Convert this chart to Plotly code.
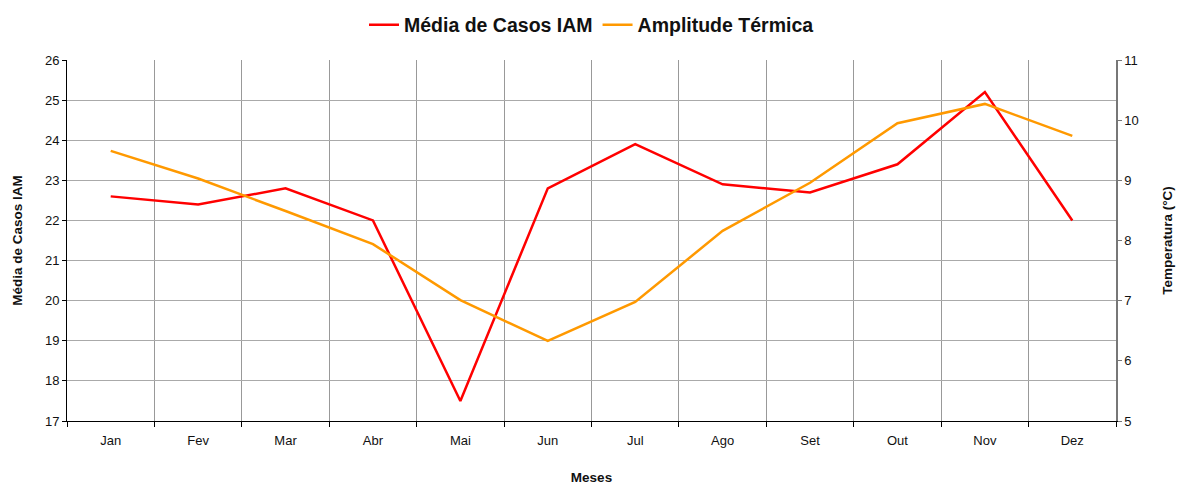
import plotly.graph_objects as go

meses = ["Jan", "Fev", "Mar", "Abr", "Mai", "Jun", "Jul", "Ago", "Set", "Out", "Nov", "Dez"]
casos_iam = [22.6, 22.4, 22.8, 22.0, 17.5, 22.8, 23.9, 22.9, 22.7, 23.4, 25.2, 22.0]
amplitude = [9.49, 9.03, 8.49, 7.94, 7.01, 6.33, 6.98, 8.16, 8.96, 9.95, 10.27, 9.74]

font = "Liberation Sans, Arial, sans-serif"

fig = go.Figure()
fig.add_trace(go.Scatter(x=meses, y=casos_iam, name="Média de Casos IAM",
                         mode="lines", line=dict(color="#ff0000", width=2.5)))
fig.add_trace(go.Scatter(x=meses, y=amplitude, name="Amplitude Térmica",
                         mode="lines", line=dict(color="#ff9900", width=2.5), yaxis="y2"))

fig.update_layout(
    width=1178, height=485,
    margin=dict(l=67, r=62, t=60, b=64),
    paper_bgcolor="white", plot_bgcolor="white",
    font=dict(family=font, size=13, color="#111111"),
    showlegend=True,
    legend=dict(orientation="h", x=0.5, xanchor="center", y=1 - 25 / 485, yanchor="middle",
                yref="container", font=dict(size=19.5, family=font, weight="bold"),
                tracegroupgap=0),
    xaxis=dict(type="category", range=[-0.5, 11.5], tickson="boundaries",
               showgrid=True, gridcolor="#999999", gridwidth=1,
               showline=True, linecolor="black", linewidth=1,
               ticks="outside", ticklen=5, tickcolor="black",
               tickfont=dict(size=13), ticklabelstandoff=7,
               title=dict(text="Meses", font=dict(size=13.5, weight="bold"), standoff=29),
               automargin=False),
    yaxis=dict(range=[17, 26], dtick=1, showgrid=True, gridcolor="#aaaaaa", gridwidth=1,
               showline=True, linecolor="black", linewidth=1,
               ticks="outside", ticklen=4, tickcolor="black",
               tickfont=dict(size=13), zeroline=False,
               title=dict(text="Média de Casos IAM", font=dict(size=13.5, weight="bold"), standoff=19),
               automargin=False),
    yaxis2=dict(range=[5, 11], dtick=1, overlaying="y", side="right", showgrid=False,
                showline=True, linecolor="#777777", linewidth=1.5,
                ticks="outside", ticklen=4, tickcolor="#777777",
                tickfont=dict(size=13), zeroline=False,
                title=dict(text="Temperatura (°C)", font=dict(size=13.5, weight="bold"), standoff=25),
                automargin=False),
)

fig.write_html("out.html", config={"displayModeBar": False},
               post_script="document.body.style.margin='0';document.body.style.overflow='hidden';")
